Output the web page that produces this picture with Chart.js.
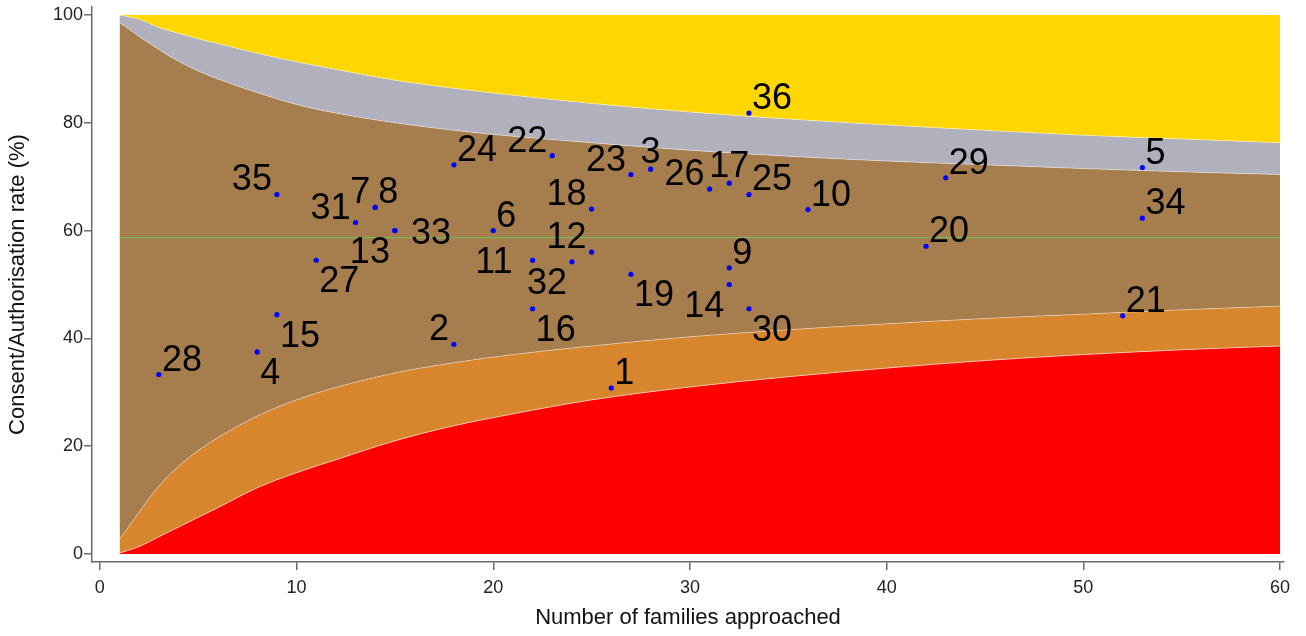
<!DOCTYPE html>
<html>
<head>
<meta charset="utf-8">
<title>Consent/Authorisation rate funnel plot</title>
<script src="https://cdn.jsdelivr.net/npm/chart.js@4.4.1/dist/chart.umd.min.js"></script>
<style>
  html, body { margin:0; padding:0; background:#fff; }
  #wrap { width:1306px; height:636px; }
</style>
</head>
<body>
<div id="wrap"><canvas id="funnel" width="1306" height="636"></canvas></div>
<script>
/* Funnel plot – consent/authorisation rate vs. number of families approached */

// one entry per unit: label, families approached, rate (%)
const UNIT_IDS = [1, 2, 3, 4, 5, 6, 7, 8, 9, 10, 11, 12, 13, 14, 15, 16, 17, 18,
                  19, 20, 21, 22, 23, 24, 25, 26, 27, 28, 29, 30, 31, 32, 33, 34, 35, 36];
const FAMILIES = [26, 18, 28, 8, 53, 20, 14, 14, 32, 36, 22, 25, 15, 32, 9, 22, 32, 25,
                  27, 42, 52, 23, 27, 18, 33, 31, 11, 3, 43, 33, 13, 24, 15, 53, 9, 33];
const RATES = [30.8, 38.9, 71.4, 37.5, 71.7, 60.0, 64.3, 64.3, 53.1, 63.9, 54.5, 56.0, 60.0, 50.0, 44.4, 45.5, 68.8, 64.0,
               51.9, 57.1, 44.2, 73.9, 70.4, 72.2, 66.7, 67.7, 54.5, 33.3, 69.8, 45.5, 61.5, 54.2, 60.0, 62.3, 66.7, 81.8];

const MEAN_RATE = 58.7;
const MEAN_SPAN = [1, 60];

// control limits
const LIMIT_X   = [1, 2, 3, 4, 5, 6, 8, 10, 12, 15, 18, 21, 25, 30, 35, 40, 45, 50, 55, 60];
const UPPER_998 = [100, 99.2, 97.7, 96.6, 95.6, 94.7, 92.9, 91.3, 89.9, 87.9, 86.4, 85.1, 83.6, 82.0, 80.7, 79.6, 78.6, 77.7, 77.0, 76.3];
const UPPER_95  = [98.6, 96.0, 93.6, 91.4, 89.6, 88.1, 85.6, 83.4, 81.8, 80.0, 78.6, 77.5, 76.3, 74.9, 73.8, 72.9, 72.2, 71.5, 70.9, 70.4];
const LOWER_95  = [2.7, 7.8, 12.6, 16.3, 19.2, 21.6, 25.6, 28.6, 30.9, 33.6, 35.5, 37.0, 38.6, 40.3, 41.6, 42.7, 43.7, 44.5, 45.3, 46.0];
const LOWER_998 = [0.2, 1.4, 3.2, 5.0, 6.8, 8.6, 12.3, 15.1, 17.5, 21.0, 23.8, 26.0, 28.6, 31.0, 32.9, 34.5, 35.9, 37.0, 37.9, 38.6];

const X_TICKS = [0, 10, 20, 30, 40, 50, 60];
const Y_TICKS = [0, 20, 40, 60, 80, 100];

const FONT = '"Liberation Sans", Arial, sans-serif';
const AXIS_COLOR = '#6a6a6a';

// where each unit label sits around its marker (clock position)
const LABEL_CLOCK = {
  1:2, 2:10, 3:12, 4:4, 5:2, 6:2, 7:10, 8:2, 9:2, 10:2, 11:9, 12:10, 13:7, 14:7, 15:4, 16:4, 17:12, 18:10,
  19:4, 20:2, 21:2, 22:10, 23:10, 24:2, 25:2, 26:10, 27:4, 28:2, 29:2, 30:4, 31:10, 32:7, 33:3, 34:2, 35:10, 36:2
};
const CLOCK_OFFSET = {
  2:  [3, -4, 'left'],
  3:  [16, 13, 'left'],
  4:  [3, 32, 'left'],
  7:  [-5, 32, 'right'],
  9:  [-20, 13, 'right'],
  10: [-5, -4, 'right'],
  12: [0, -6, 'center']
};

const curve = (ys) => LIMIT_X.map((x, i) => ({ x, y: ys[i] }));

const band = (label, ys, fill, color) => ({
  type: 'line',
  label,
  data: curve(ys),
  fill,
  backgroundColor: color,
  borderColor: 'rgba(255,255,255,0.4)',
  borderWidth: 1,
  pointRadius: 0,
  cubicInterpolationMode: 'monotone',
  order: 3
});

const unitLabels = {
  id: 'unitLabels',
  afterDatasetsDraw(chart) {
    const idx = chart.data.datasets.findIndex(d => d.label === 'units');
    const meta = chart.getDatasetMeta(idx);
    const ctx = chart.ctx;
    ctx.save();
    ctx.font = `36px ${FONT}`;
    ctx.fillStyle = '#000';
    ctx.textBaseline = 'alphabetic';
    meta.data.forEach((pt, i) => {
      const id = UNIT_IDS[i];
      const [dx, dy, align] = CLOCK_OFFSET[LABEL_CLOCK[id] ?? 2];
      ctx.textAlign = align;
      ctx.fillText(String(id), pt.x + dx, pt.y + dy);
    });
    ctx.restore();
  }
};

const datasets = [
  band('above 99.8%', UPPER_998, { value: 100 }, '#FFD700'),
  band('95–99.8% high', UPPER_95, 0, '#B1B1BE'),
  band('within 95%', LOWER_95, 1, '#A67D4D'),
  band('95–99.8% low', LOWER_998, 2, '#D8862D'),
  band('below 99.8%', LOWER_998, 'origin', '#FF0000'),
  {
    type: 'line',
    label: 'mean',
    data: MEAN_SPAN.map(x => ({ x, y: MEAN_RATE })),
    borderColor: '#6cc05a',
    borderWidth: 1,
    pointRadius: 0,
    fill: false,
    order: 2
  },
  {
    type: 'scatter',
    label: 'units',
    data: FAMILIES.map((x, i) => ({ x, y: RATES[i] })),
    backgroundColor: '#0000FF',
    borderWidth: 0,
    pointRadius: 2.6,
    order: 1
  }
];

const noPad = s => { s.paddingTop = 0; s.paddingBottom = 0; s.paddingLeft = 0; s.paddingRight = 0; };

new Chart(document.getElementById('funnel'), {
  type: 'scatter',
  data: { datasets },
  plugins: [unitLabels],
  options: {
    responsive: false,
    animation: false,
    devicePixelRatio: 1,
    layout: { padding: { top: 7, right: 22, left: 0, bottom: 0 } },
    plugins: { legend: { display: false }, tooltip: { enabled: false } },
    scales: {
      x: {
        type: 'linear',
        min: -0.4, max: 60.2,
        afterBuildTicks: s => { s.ticks = X_TICKS.map(value => ({ value })); },
        afterFit: s => { s.height = 74; noPad(s); },
        grid: { drawOnChartArea: false, drawTicks: true, tickLength: 8, color: AXIS_COLOR, lineWidth: 1.5 },
        border: { display: true, color: AXIS_COLOR, width: 1.5 },
        ticks: { color: '#222', font: { family: FONT, size: 18 }, padding: 7, maxRotation: 0 },
        title: { display: true, text: 'Number of families approached', color: '#111',
                 font: { family: FONT, size: 22 }, padding: { top: 0, bottom: 5 } }
      },
      y: {
        type: 'linear',
        min: -1.48, max: 101.48,
        afterBuildTicks: s => { s.ticks = Y_TICKS.map(value => ({ value })); },
        afterFit: s => { s.width = 92; noPad(s); },
        grid: { drawOnChartArea: false, drawTicks: true, tickLength: 8, color: AXIS_COLOR, lineWidth: 1.5 },
        border: { display: true, color: AXIS_COLOR, width: 1.5 },
        ticks: { color: '#222', font: { family: FONT, size: 18 }, padding: 1 },
        title: { display: true, text: 'Consent/Authorisation rate (%)', color: '#111',
                 font: { family: FONT, size: 22 }, padding: { top: 5, bottom: 0 } }
      }
    }
  }
});
</script>
</body>
</html>
